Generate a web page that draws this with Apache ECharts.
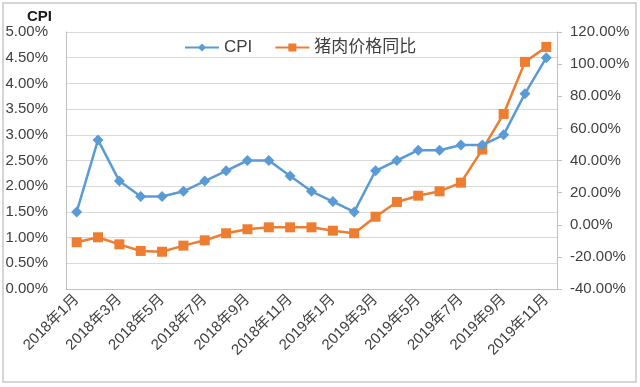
<!DOCTYPE html>
<html><head><meta charset="utf-8">
<script src="https://cdn.jsdelivr.net/npm/echarts@6/dist/echarts.min.js"></script>
<style>html,body{margin:0;padding:0;background:#fff}#c{width:640px;height:387px}</style>
</head><body><div id="c"></div>
<script>
const categories = ['2018年1月','2018年2月','2018年3月','2018年4月','2018年5月','2018年6月','2018年7月','2018年8月','2018年9月','2018年10月','2018年11月','2018年12月','2019年1月','2019年2月','2019年3月','2019年4月','2019年5月','2019年6月','2019年7月','2019年8月','2019年9月','2019年10月','2019年11月'];
const cpi = [1.5,2.9,2.1,1.8,1.8,1.9,2.1,2.3,2.5,2.5,2.2,1.9,1.7,1.5,2.3,2.5,2.7,2.7,2.8,2.8,3.0,3.8,4.5];
const pork = [-10.9,-7.8,-12.2,-16.3,-16.8,-13.0,-9.7,-5.3,-2.8,-1.6,-1.6,-1.6,-3.7,-5.3,5.0,14.2,18.1,20.8,26.2,46.8,69.0,101.4,110.7];
const seriesNames = ['CPI','猪肉价格同比'];

const font = '"Liberation Sans","Noto Sans CJK SC",sans-serif';
const txt = '#404040';
const chart = echarts.init(document.getElementById('c'), null, {renderer:'canvas'});
chart.setOption({
  animation:false,
  textStyle:{fontFamily:font},
  graphic:[{type:'rect',shape:{x:3,y:3,width:633,height:379},style:{fill:'none',stroke:'#c8c8c8',lineWidth:1.5},silent:true},
           {type:'text',left:27,top:9,style:{text:'CPI',font:'bold 15px '+font,fill:'#1a1a1a'}}],
  grid:{left:66,right:83,top:32,bottom:98,containLabel:false},
  legend:{top:39,left:184,padding:0,itemWidth:34,itemHeight:10,itemGap:22,
    textStyle:{fontSize:17,color:txt,fontFamily:font},data:seriesNames},
  xAxis:{type:'category',data:categories,boundaryGap:true,
    axisLine:{lineStyle:{color:'#bfbfbf',width:1}},axisTick:{show:false},
    axisLabel:{interval:1,rotate:45,fontSize:15,color:txt,margin:8}},
  yAxis:[{type:'value',min:0,max:5,interval:0.5,
      axisLine:{show:true,lineStyle:{color:'#bfbfbf'}},axisTick:{show:false},
      splitLine:{lineStyle:{color:'#d9d9d9'}},
      axisLabel:{fontSize:15,color:txt,margin:18,formatter:v=>v.toFixed(2)+'%'}},
    {type:'value',min:-40,max:120,interval:20,position:'right',
      axisLine:{show:true,lineStyle:{color:'#bfbfbf'}},axisTick:{show:true,length:5,inside:false,lineStyle:{color:'#bfbfbf'}},
      splitLine:{show:false},
      axisLabel:{fontSize:15,color:txt,margin:13,formatter:v=>v.toFixed(2)+'%'}}],
  series:[
    {name:seriesNames[0],type:'line',data:cpi,yAxisIndex:0,symbol:'diamond',symbolSize:11,
      lineStyle:{color:'#5B9BD5',width:2.5},itemStyle:{color:'#5B9BD5'},z:3},
    {name:seriesNames[1],type:'line',data:pork,yAxisIndex:1,symbol:'rect',symbolSize:10,
      lineStyle:{color:'#ED7D31',width:2.5},itemStyle:{color:'#ED7D31'},z:2}
  ]
});
</script></body></html>
